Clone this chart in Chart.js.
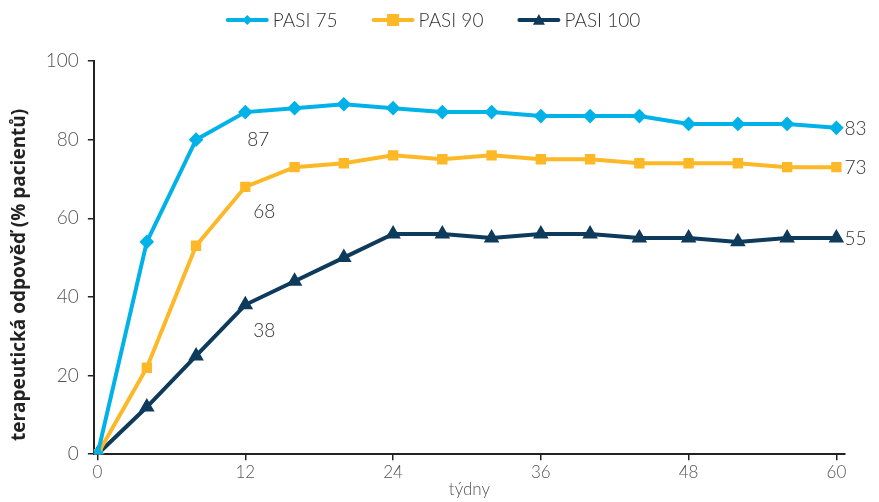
<!DOCTYPE html>
<html>
<head>
<meta charset="utf-8">
<script src="https://cdn.jsdelivr.net/npm/chart.js@4"></script>
<style>
  html, body { margin: 0; padding: 0; background: #fff; }
  #wrap { width: 879px; height: 502px; }
</style>
</head>
<body>
<div id="wrap"><canvas id="c" width="879" height="502"></canvas></div>
<script>
// data
const tydny = [0, 4, 8, 12, 16, 20, 24, 28, 32, 36, 40, 44, 48, 52, 56, 60];
const pasi75 = [0, 54, 80, 87, 88, 89, 88, 87, 87, 86, 86, 86, 84, 84, 84, 83];
const pasi90 = [0, 22, 53, 68, 73, 74, 76, 75, 76, 75, 75, 74, 74, 74, 73, 73];
const pasi100 = [0, 12, 25, 38, 44, 50, 56, 56, 55, 56, 56, 55, 55, 54, 55, 55];
const xTicks = [0, 12, 24, 36, 48, 60];
// which points get a number written next to them
const labelAt12 = 3;   // index of week 12
const labelAtEnd = 15; // index of week 60

const modra = "#00B2E8";
const zluta = "#FDB827";
const tmava = "#0E3A5C";
const fontName = "Lato, 'Open Sans', sans-serif";

function marker(g, style, cx, cy, r, color) {
    g.fillStyle = color;
    g.beginPath();
    if (style === "rectRot") { g.moveTo(cx, cy - r); g.lineTo(cx + r, cy); g.lineTo(cx, cy + r); g.lineTo(cx - r, cy); }
    else if (style === "rect") { g.rect(cx - r, cy - r, 2 * r, 2 * r); }
    else { g.moveTo(cx, cy - r); g.lineTo(cx + r, cy + r * 0.8); g.lineTo(cx - r, cy + r * 0.8); }
    g.closePath(); g.fill();
}

function serie(label, values, color, style, r) {
    return {
        label: label,
        data: tydny.map((t, i) => ({ x: t, y: values[i] })),
        borderColor: color,
        backgroundColor: color,
        borderWidth: 4,
        pointStyle: style,
        pointRadius: r,
        pointHoverRadius: r,
        tension: 0
    };
}

// legend drawn by hand: line with marker, then the name
const legenda = {
    id: "legenda",
    afterDraw(chart) {
        const ctx = chart.ctx;
        const styles = ["rectRot", "rect", "triangle"];
        const sizes = [5, 6, 6];
        ctx.save();
        ctx.font = "300 19px " + fontName;
        ctx.textBaseline = "middle";
        const iconW = 43, gap = 4, between = 34;
        const items = chart.data.datasets.map(d => ({ d: d, w: ctx.measureText(d.label).width }));
        let total = items.reduce((s, it) => s + iconW + gap + it.w, 0) + between * (items.length - 1);
        let x = 433 - total / 2;
        const y = 20;
        items.forEach((it, i) => {
            ctx.strokeStyle = it.d.borderColor;
            ctx.lineWidth = 4;
            ctx.lineCap = "round";
            ctx.beginPath(); ctx.moveTo(x + 2, y); ctx.lineTo(x + iconW - 2, y); ctx.stroke();
            marker(ctx, styles[i], x + iconW / 2, y, sizes[i], it.d.borderColor);
            ctx.fillStyle = "#333";
            ctx.textAlign = "left";
            ctx.fillText(it.d.label, x + iconW + gap, y + 1);
            x += iconW + gap + it.w + between;
        });
        ctx.restore();
    }
};

// numbers written beside the lines
const popisky = {
    id: "popisky",
    afterDatasetsDraw(chart) {
        const ctx = chart.ctx, xs = chart.scales.x, ys = chart.scales.y;
        ctx.save();
        ctx.font = "300 19px " + fontName;
        ctx.fillStyle = "#333";
        ctx.textBaseline = "middle";
        ctx.textAlign = "left";
        const rady = [pasi75, pasi90, pasi100];
        const dx = [2, 8, 8];
        const dy = [28, 25, 26];
        rady.forEach((r, k) => {
            ctx.fillText(String(r[labelAt12]), xs.getPixelForValue(tydny[labelAt12]) + dx[k], ys.getPixelForValue(r[labelAt12]) + dy[k]);
            ctx.fillText(String(r[labelAtEnd]), xs.getPixelForValue(tydny[labelAtEnd]) + 8, ys.getPixelForValue(r[labelAtEnd]) + 1);
        });
        ctx.restore();
    }
};

new Chart("c", {
    type: "line",
    data: {
        datasets: [
            serie("PASI 75", pasi75, modra, "rectRot", 4.5),
            serie("PASI 90", pasi90, zluta, "rect", 4.5),
            serie("PASI 100", pasi100, tmava, "triangle", 5)
        ]
    },
    plugins: [popisky, legenda],
    options: {
        responsive: false,
        animation: false,
        layout: { padding: { left: 8, right: 34, top: 61, bottom: 2 } },
        plugins: {
            legend: { display: false },
            tooltip: { enabled: false }
        },
        scales: {
            x: {
                type: "linear",
                min: -0.3,
                max: 60.7,
                afterBuildTicks(scale) { scale.ticks = xTicks.map(v => ({ value: v })); },
                border: { color: "#222", width: 2 },
                grid: { drawOnChartArea: false, tickLength: 6, color: "#222", lineWidth: 1.5 },
                ticks: { color: "#555", padding: 2, maxRotation: 0, font: { family: fontName, size: 17, weight: "300" } },
                title: { display: true, text: "týdny", color: "#555", padding: { top: -5, bottom: 0 }, font: { family: fontName, size: 17, weight: "300" } }
            },
            y: {
                min: 0,
                max: 100,
                ticks: { stepSize: 20, color: "#555", padding: 9, font: { family: fontName, size: 19, weight: "300" } },
                border: { color: "#222", width: 2 },
                grid: { drawOnChartArea: false, tickLength: 6, color: "#222", lineWidth: 1.5 },
                title: {
                    display: true,
                    text: "terapeutická odpověď (% pacientů)\u00A0\u00A0\u00A0\u00A0\u00A0\u00A0\u00A0",
                    color: "#222",
                    padding: { top: 0, bottom: 6 },
                    font: { family: "'Open Sans', sans-serif", size: 19, weight: "bold" }
                }
            }
        }
    }
});
</script>
</body>
</html>
